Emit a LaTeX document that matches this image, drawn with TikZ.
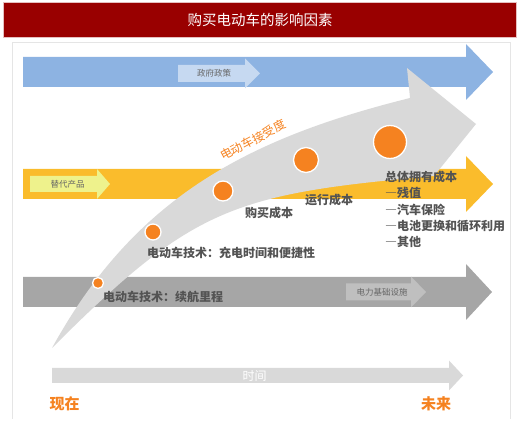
\documentclass[tikz,border=0pt]{standalone}
\usepackage{fontspec}
\setmainfont{Noto Sans CJK SC}
\usetikzlibrary{positioning}

\definecolor{titlered}{HTML}{990000}
\definecolor{barblue}{HTML}{8DB3E2}
\definecolor{tagblue}{HTML}{C6D9F1}
\definecolor{baryellow}{HTML}{FABC2C}
\definecolor{tagyellow}{HTML}{EEF28C}
\definecolor{bargray}{HTML}{A6A6A6}
\definecolor{taggray}{HTML}{BFBFBF}
\definecolor{lightgray}{HTML}{D9D9D9}
\definecolor{dotorange}{HTML}{F58220}
\definecolor{textgray}{HTML}{404040}

% flat block arrow: fill, x start, x head, x tip, y centre, half body, half head
\newcommand{\flatarrow}[7]{%
	\fill[#1] (#2,#5-#6) -- (#3,#5-#6) -- (#3,#5-#7) -- (#4,#5)
		-- (#3,#5+#7) -- (#3,#5+#6) -- (#2,#5+#6) -- cycle;}

\begin{document}
\begin{tikzpicture}[
		x=1pt, y=-1pt,
		% Style for the small tag texts inside the arrows
		tagtext/.style={font=\fontsize{8.5}{10}\selectfont, text=textgray!80, inner sep=0pt},
		% Style for the labels along the curve
		steplabel/.style={font=\fontsize{12}{14}\selectfont\bfseries, text=textgray!90, inner sep=0pt, anchor=west},
		% Style for the orange milestones
		dot/.style={circle, fill=dotorange, draw=white, line width=1.3pt, inner sep=0pt},
		endlabel/.style={font=\fontsize{15}{17}\selectfont\bfseries, text=dotorange, inner sep=0pt}
		]
		\useasboundingbox (0,0) rectangle (520,446);
		
		% --- TITLE ---
		\fill[titlered, draw=titlered!25, line width=0.6pt] (3,2) rectangle (516,37);
		\node[font=\fontsize{14.5}{16}\selectfont, text=white, inner sep=0pt] (title) at (260,19.5) {购买电动车的影响因素};
		\draw[black!10, line width=0.8pt] (12,419) -- (12,42) -- (510,42) -- (510,419);
		
		% --- BACKGROUND BARS ---
		\flatarrow{barblue}{23}{466}{493}{72}{15}{28}
		\flatarrow{baryellow}{23}{466}{493}{184}{15}{28}
		\flatarrow{bargray}{23}{466}{492}{292}{15}{28}
		\flatarrow{lightgray}{52}{449}{463}{375.5}{7.5}{15}
		
		% --- ACCEPTANCE CURVE ---
		\fill[lightgray] (52,348) .. controls (134,199) and (245,139) .. (410,98)
			-- (407,68) -- (476,124) -- (434,176)
			.. controls (233,194) and (193,207) .. (52,348) -- cycle;
		
		% --- TAGS ---
		\flatarrow{tagblue}{178}{245}{260}{73.5}{8.5}{15}
		\flatarrow{tagyellow}{30}{97}{110}{184}{8}{15}
		\flatarrow{taggray}{346}{411}{426}{292}{8.5}{15.5}
		\node[tagtext] (gov) at (214,73.5) {政府政策};
		\node[tagtext] (alt) at (67.5,184) {替代产品};
		\node[tagtext] (power) at (382,292) {电力基础设施};
		\node[font=\fontsize{12}{14}\selectfont, text=white, inner sep=0pt] (time) at (254.5,376) {时间};
		
		% --- MILESTONES ---
		\node[dot, minimum size=11pt] (d1) at (98,283) {};
		\node[dot, minimum size=16pt] (d2) at (153,232) {};
		\node[dot, minimum size=20pt] (d3) at (223,191) {};
		\node[dot, minimum size=25pt] (d4) at (306,160) {};
		\node[dot, minimum size=33pt] (d5) at (390,142) {};
		
		\node[steplabel] (range) at (103,297) {电动车技术：续航里程};
		\node[steplabel] (charge) at (147,253) {电动车技术：充电时间和便捷性};
		\node[steplabel] (buy) at (245,213) {购买成本};
		\node[steplabel] (run) at (305,200) {运行成本};
		\node[steplabel, anchor=north west, align=left, font=\fontsize{12}{16.3}\selectfont\bfseries\addfontfeatures{RawFeature=+fwid}] (tco) at (385,171)
			{总体拥有成本\\—残值\\—汽车保险\\—电池更换和循环利用\\—其他};
		\node[font=\fontsize{12}{14}\selectfont, text=dotorange, rotate=28, inner sep=0pt] (accept) at (253,140) {电动车接受度};
		
		% --- TIME ENDS ---
		\node[endlabel] (now) at (64.5,404) {现在};
		\node[endlabel] (future) at (436,404) {未来};
		
	\end{tikzpicture}
\end{document}
